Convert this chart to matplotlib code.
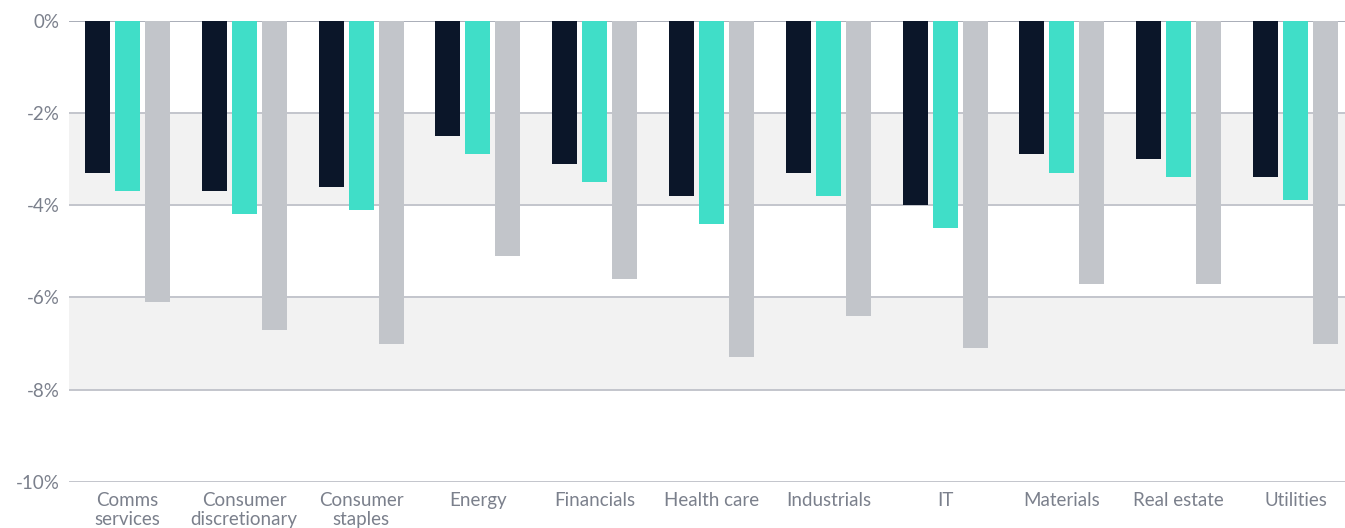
import numpy as np
import matplotlib.pyplot as plt

# Data
sectors = ['Comms\nservices', 'Consumer\ndiscretionary', 'Consumer\nstaples', 'Energy',
           'Financials', 'Health care', 'Industrials', 'IT', 'Materials',
           'Real estate', 'Utilities']
series_a = [-3.3, -3.7, -3.6, -2.5, -3.1, -3.8, -3.3, -4.0, -2.9, -3.0, -3.4]
series_b = [-3.7, -4.2, -4.1, -2.9, -3.5, -4.4, -3.8, -4.5, -3.3, -3.4, -3.9]
series_c = [-6.1, -6.7, -7.0, -5.1, -5.6, -7.3, -6.4, -7.1, -5.7, -5.7, -7.0]
y_ticks = [0, -2, -4, -6, -8, -10]

colors = ['#0b1629', '#40dec8', '#c2c5ca']
text_color = '#7b808c'
grid_color = '#c3c5cc'

plt.rcParams['font.family'] = ['Lato', 'DejaVu Sans']

fig = plt.figure(figsize=(13.45, 5.28), dpi=100)
# axes runs a bit past the right edge of the picture, as in the reference
ax = fig.add_axes([69 / 1345, 46 / 528, 1285 / 1345, 461.5 / 528])

x = np.arange(len(sectors))
w = 25 / 116.8
step = 30 / 116.8
for i, vals in enumerate([series_a, series_b, series_c]):
    ax.bar(x + (i - 1) * step, vals, width=w, color=colors[i], zorder=3)

# alternating background bands
for lo, hi in [(-4, -2), (-8, -6)]:
    ax.axhspan(lo, hi, color='#f2f2f2', zorder=0, lw=0)
for t in y_ticks:
    ax.axhline(t, color='#a9adb8' if t == 0 else grid_color, lw=1.4, zorder=1)

ax.set_xlim(-0.5, len(sectors) - 0.5)
ax.set_ylim(-10, 0)
ax.set_yticks(y_ticks)
ax.set_yticklabels([f'{t}%' for t in y_ticks])
ax.set_xticks(x)
ax.set_xticklabels(sectors, linespacing=1.15)
ax.tick_params(axis='both', length=0, labelsize=13.5, colors=text_color)
ax.tick_params(axis='y', pad=7)
ax.tick_params(axis='x', pad=7)
for s in ax.spines.values():
    s.set_visible(False)

fig.savefig('out.png', dpi=100)
